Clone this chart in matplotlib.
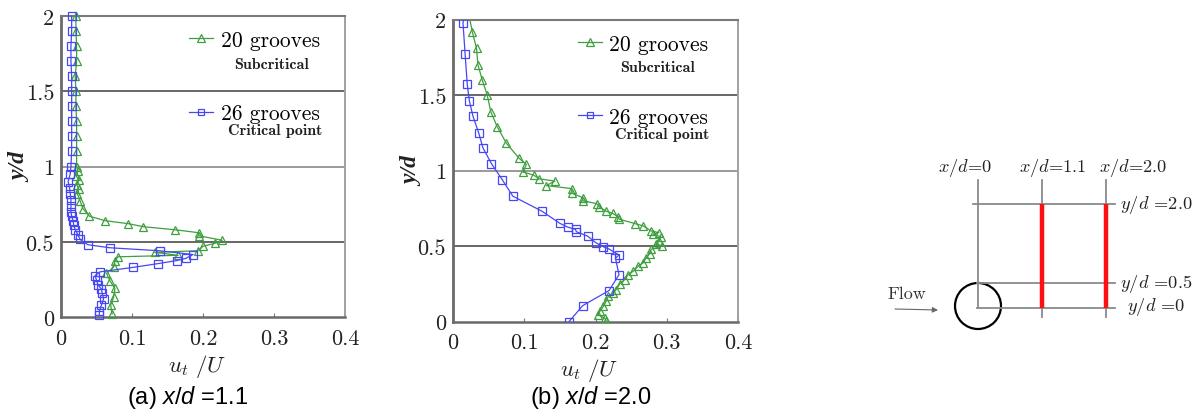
import matplotlib
matplotlib.use('Agg')
import matplotlib.pyplot as plt
from matplotlib.patches import Circle

W, H, DPI = 1195, 414, 100

plt.rcParams['mathtext.fontset'] = 'custom'
plt.rcParams['mathtext.it'] = 'Liberation Sans:italic'
plt.rcParams['mathtext.rm'] = 'Liberation Sans'

# ---------------- data ----------------
series_names = ['20 grooves', '26 grooves']
series_notes = ['Subcritical', 'Critical point']

# panel (a) x/d = 1.1
a_green_x = [0.021, 0.021, 0.022, 0.022, 0.020, 0.021, 0.021, 0.022, 0.022, 0.022,
             0.022, 0.024, 0.021, 0.025, 0.022, 0.025, 0.023, 0.027, 0.031, 0.040,
             0.062, 0.095, 0.116, 0.160, 0.194, 0.194, 0.227, 0.217, 0.200, 0.193,
             0.132, 0.165, 0.080, 0.076, 0.074, 0.064, 0.069, 0.076, 0.074, 0.070, 0.072]
a_green_y = [2.00, 1.90, 1.80, 1.70, 1.60, 1.50, 1.40, 1.30, 1.20, 1.10,
             1.00, 0.97, 0.94, 0.91, 0.88, 0.85, 0.82, 0.77, 0.72, 0.67,
             0.64, 0.62, 0.60, 0.58, 0.56, 0.54, 0.51, 0.49, 0.47, 0.44,
             0.43, 0.41, 0.40, 0.37, 0.33, 0.29, 0.24, 0.19, 0.13, 0.08, 0.02]
a_blue_x = [0.015, 0.015, 0.014, 0.014, 0.015, 0.015, 0.015, 0.015, 0.015, 0.015,
            0.014, 0.013, 0.010, 0.012, 0.013, 0.014, 0.014, 0.014, 0.015, 0.017,
            0.018, 0.020, 0.024, 0.027, 0.038, 0.069, 0.139, 0.186, 0.176, 0.163,
            0.137, 0.102, 0.055, 0.048, 0.050, 0.052, 0.057, 0.058, 0.060, 0.057,
            0.054, 0.054]
a_blue_y = [2.00, 1.90, 1.80, 1.70, 1.60, 1.50, 1.40, 1.30, 1.20, 1.10,
            1.00, 0.95, 0.90, 0.86, 0.82, 0.78, 0.74, 0.70, 0.67, 0.64,
            0.61, 0.58, 0.545, 0.515, 0.48, 0.46, 0.44, 0.415, 0.39, 0.375,
            0.355, 0.33, 0.30, 0.275, 0.245, 0.215, 0.185, 0.16, 0.12, 0.08,
            0.04, 0.01]

# panel (b) x/d = 2.0
b_green_x = [0.022, 0.027, 0.033, 0.035, 0.041, 0.048, 0.053, 0.062, 0.075, 0.093,
             0.103, 0.098, 0.113, 0.121, 0.143, 0.131, 0.167, 0.167, 0.182, 0.182,
             0.202, 0.205, 0.215, 0.224, 0.232, 0.233, 0.255, 0.267, 0.278, 0.289,
             0.281, 0.292, 0.289, 0.285, 0.294, 0.278, 0.276, 0.271, 0.267, 0.260,
             0.253, 0.246, 0.241, 0.234, 0.229, 0.225, 0.218, 0.215, 0.211, 0.206,
             0.204, 0.213, 0.215]
b_green_y = [2.04, 1.92, 1.81, 1.70, 1.60, 1.50, 1.39, 1.29, 1.18, 1.08,
             1.04, 0.99, 0.97, 0.945, 0.93, 0.90, 0.88, 0.85, 0.82, 0.80,
             0.78, 0.76, 0.73, 0.716, 0.693, 0.678, 0.649, 0.633, 0.60, 0.589,
             0.578, 0.56, 0.533, 0.511, 0.50, 0.478, 0.449, 0.422, 0.389, 0.367,
             0.333, 0.311, 0.278, 0.249, 0.211, 0.189, 0.167, 0.133, 0.10, 0.067,
             0.044, 0.022, 0.004]
b_blue_x = [0.017, 0.014, 0.017, 0.020, 0.023, 0.028, 0.036, 0.042, 0.054, 0.069,
            0.084, 0.125, 0.150, 0.161, 0.172, 0.173, 0.189, 0.201, 0.211, 0.219,
            0.233, 0.228, 0.233, 0.219, 0.182, 0.163]
b_blue_y = [2.03, 1.98, 1.77, 1.57, 1.46, 1.36, 1.25, 1.15, 1.045, 0.94,
            0.83, 0.73, 0.65, 0.625, 0.61, 0.595, 0.565, 0.52, 0.495, 0.48,
            0.44, 0.42, 0.31, 0.205, 0.105, 0.00]

x_ticks = [0, 0.1, 0.2, 0.3, 0.4]
x_tick_labels = ['0', '0.1', '0.2', '0.3', '0.4']
y_ticks = [0, 0.5, 1, 1.5, 2]
y_tick_labels = ['0', '0.5', '1', '1.5', '2']
captions = [r'(a) $x/d$ =1.1', r'(b) $x/d$ =2.0']

# schematic
station_labels = ['0', '1.1', '2.0']
level_labels = ['0', '0.5', '2.0']

GREEN = '#3f9e3f'
BLUE = '#4646f5'

fig = plt.figure(figsize=(W / DPI, H / DPI), dpi=DPI)


def px_axes(l, t, r, b):
    return fig.add_axes([l / W, 1 - b / H, (r - l) / W, (b - t) / H])


def panel(ax, gx, gy, bx, by, clip, leg_anchor, note_pos):
    lg, = ax.plot(gx, gy, color=GREEN, lw=0.9, marker='^', ms=6.2, mfc='none',
                  mec=GREEN, mew=0.9, clip_on=clip, zorder=3)
    lb, = ax.plot(bx, by, color=BLUE, lw=0.9, marker='s', ms=5.6, mfc='none',
                  mec=BLUE, mew=0.9, clip_on=clip, zorder=3)
    ax.set_xlim(0, 0.4)
    ax.set_ylim(0, 2)
    ax.set_xticks(x_ticks)
    ax.set_xticklabels(x_tick_labels)
    ax.set_yticks(y_ticks)
    ax.set_yticklabels(y_tick_labels)
    ax.tick_params(axis='x', direction='in', length=3, width=0.8, color='#777',
                   labelcolor='#222', pad=8, labelsize=16, labelfontfamily='cmr10')
    ax.tick_params(axis='y', length=0, pad=5, labelcolor='#222', labelsize=16,
                   labelfontfamily='cmr10')
    for v in y_ticks[1:-1]:
        ax.axhline(v, color='#666' if v != 1 else '#9a9a9a', lw=1.4, zorder=1)
    ax.spines['left'].set_color('#6a6a6a')
    ax.spines['left'].set_linewidth(2.0)
    ax.spines['bottom'].set_color('#6a6a6a')
    ax.spines['bottom'].set_linewidth(1.8)
    ax.spines['top'].set_color('#7a7a7a')
    ax.spines['top'].set_linewidth(1.5)
    ax.spines['right'].set_color('#a0a0a0')
    ax.spines['right'].set_linewidth(1.4)

    ax.legend([lg, lb], series_names, loc='upper left', bbox_to_anchor=leg_anchor,
              frameon=False, prop={'family': 'cmr10', 'size': 15.5},
              handlelength=1.1, handletextpad=0.35, labelspacing=2.5,
              borderpad=0, borderaxespad=0, numpoints=1, markerscale=0.85)
    for note, (nx, ny) in zip(series_notes, note_pos):
        ax.text(nx, ny, note, ha='center', va='center', fontfamily='cmb10',
                fontsize=11.5, color='#222')

    ax.set_ylabel('y/d', fontfamily='Liberation Serif', fontstyle='italic',
                  fontweight='bold', fontsize=17, color='#222')
    ax.yaxis.set_label_coords(-0.105, 0.5)
    ax.set_xlabel(r'$u_t\ /U$', math_fontfamily='cm', fontsize=16.5, color='#222')
    ax.xaxis.set_label_coords(0.478, -0.115)


ax1 = px_axes(61, 17, 345, 318)
panel(ax1, a_green_x, a_green_y, a_blue_x, a_blue_y, False,
      (0.452, 0.952), [(0.297, 1.684), (0.301, 1.245)])
ax2 = px_axes(453, 20.5, 738, 322.5)
panel(ax2, b_green_x, b_green_y, b_blue_x, b_blue_y, True,
      (0.438, 0.952), [(0.287, 1.683), (0.293, 1.245)])

for cap, cx in zip(captions, [188, 591]):
    fig.text(cx / W, 1 - 398 / H, cap, ha='center', va='center', fontsize=17,
             family='Liberation Sans', math_fontfamily='custom')

# ---------------- schematic ----------------
ax3 = px_axes(860, 150, 1195, 340)
ax3.set_xlim(860, 1195)
ax3.set_ylim(340, 150)
ax3.axis('off')

ox, oy = 978, 309
st_off = [0, 63.5, 127.5]      # horizontal offset of each station (px)
lv_off = [0, 25, 104]          # vertical offset of each level (px)
gray = '#8a8a8a'

for i, dx in enumerate(st_off):
    ax3.plot([ox + dx, ox + dx], [181, oy if i == 0 else 318], color=gray, lw=1.3)
for j, dy in enumerate(lv_off):
    x0 = 973 if j == 2 else 977
    ax3.plot([x0, 1115], [oy - dy, oy - dy], color=gray, lw=1.3)
for dx in st_off[1:]:
    ax3.plot([ox + dx, ox + dx], [oy, oy - lv_off[2]], color='#ff1010', lw=3.2,
             solid_capstyle='butt')
ax3.add_patch(Circle((ox, oy - 2), 23, fill=False, ec='black', lw=1.6))

ax3.text(907, 294, 'Flow', ha='center', va='center', fontfamily='cmr10',
         fontsize=13, color='#333')
ax3.annotate('', xy=(938, 311), xytext=(895, 310),
             arrowprops=dict(arrowstyle='-|>', color='#666', lw=0.8,
                             mutation_scale=8, shrinkA=0, shrinkB=0))

for lab, lx in zip(station_labels, [965, 1053, 1133]):
    ax3.text(lx, 168, r'$x/d$=' + lab, ha='center', va='center',
             fontfamily='cmr10', math_fontfamily='cm', fontsize=13.2, color='#222')
for lab, (lx, ly) in zip(level_labels, [(1127, 307), (1120, 284), (1120, 205)]):
    ax3.text(lx, ly, r'$y/d$ =' + lab, ha='left', va='center',
             fontfamily='cmr10', math_fontfamily='cm', fontsize=13.2, color='#222')

fig.savefig('out.png', dpi=DPI)
